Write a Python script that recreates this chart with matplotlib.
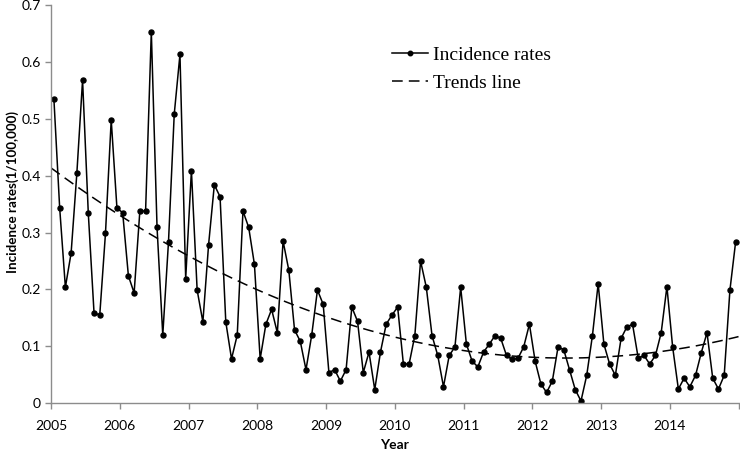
import numpy as np
import matplotlib.pyplot as plt

# monthly incidence rates, Jan 2005 - Dec 2014
rates_2005 = [0.534, 0.344, 0.204, 0.264, 0.404, 0.568, 0.334, 0.159, 0.155, 0.299, 0.498, 0.343]
rates_2006 = [0.335, 0.224, 0.194, 0.338, 0.338, 0.653, 0.309, 0.120, 0.284, 0.508, 0.613, 0.219]
rates_2007 = [0.409, 0.199, 0.143, 0.279, 0.384, 0.363, 0.143, 0.078, 0.120, 0.338, 0.309, 0.244]
rates_2008 = [0.078, 0.139, 0.165, 0.124, 0.285, 0.234, 0.129, 0.109, 0.059, 0.120, 0.199, 0.174]
rates_2009 = [0.054, 0.059, 0.039, 0.059, 0.169, 0.144, 0.054, 0.090, 0.024, 0.090, 0.139, 0.155]
rates_2010 = [0.169, 0.069, 0.069, 0.119, 0.250, 0.204, 0.119, 0.084, 0.029, 0.084, 0.099, 0.204]
rates_2011 = [0.104, 0.074, 0.064, 0.090, 0.104, 0.119, 0.114, 0.084, 0.077, 0.079, 0.099, 0.139]
rates_2012 = [0.074, 0.034, 0.019, 0.039, 0.099, 0.094, 0.059, 0.024, 0.004, 0.049, 0.119, 0.210]
rates_2013 = [0.104, 0.069, 0.049, 0.114, 0.134, 0.139, 0.079, 0.084, 0.069, 0.084, 0.124, 0.205]
rates_2014 = [0.099, 0.025, 0.044, 0.029, 0.049, 0.089, 0.124, 0.044, 0.025, 0.049, 0.199, 0.284]

years = [2005, 2006, 2007, 2008, 2009, 2010, 2011, 2012, 2013, 2014]
ytick_vals = [0, 0.1, 0.2, 0.3, 0.4, 0.5, 0.6, 0.7]
ytick_labels = ["0", "0.1", "0.2", "0.3", "0.4", "0.5", "0.6", "0.7"]

rates = np.array(rates_2005 + rates_2006 + rates_2007 + rates_2008 + rates_2009
                 + rates_2010 + rates_2011 + rates_2012 + rates_2013 + rates_2014)
n = len(rates)
x = np.arange(n) + 0.5  # points sit between the month ticks

# polynomial (order 2) trend line
coef = np.polyfit(x, rates, 2)
xt = np.linspace(0, n, 300)
yt = np.polyval(coef, xt)

fig = plt.figure(figsize=(7.4, 4.54), dpi=100)
ax = fig.add_axes([0.069, 0.1117, 0.929, 0.8773])

ax.plot(x, rates, color="black", linewidth=1.1, marker="o", markersize=3.6,
        label="Incidence rates")
ax.plot(xt, yt, color="black", linewidth=1.1, linestyle=(0, (7, 4)),
        label="Trends line")

ax.set_xlim(0, n)
ax.set_ylim(0, 0.7)
ax.set_xticks(np.arange(0, n + 1, 12))
ax.set_xticklabels([str(y) for y in years] + [""])
ax.set_yticks(ytick_vals)
ax.set_yticklabels(ytick_labels)

for s in ["top", "right"]:
    ax.spines[s].set_visible(False)
for s in ["left", "bottom"]:
    ax.spines[s].set_color("#8c8c8c")
    ax.spines[s].set_linewidth(1.0)
ax.tick_params(axis="both", colors="#8c8c8c", length=4, width=1.0,
               labelcolor="black", labelsize=10)
ax.tick_params(axis="x", pad=8)
for lab in ax.get_xticklabels() + ax.get_yticklabels():
    lab.set_fontfamily("Lato")

ax.set_xlabel("Year", fontsize=10, fontweight="bold", family="Lato", labelpad=5)
ax.set_ylabel("Incidence rates(1/100,000)", fontsize=9.6, fontweight="bold",
              family="Lato")
ax.yaxis.set_label_coords(-0.046, 0.53)

leg = ax.legend(loc="upper left", bbox_to_anchor=(0.496, 0.897), frameon=False,
                prop={"family": "Liberation Serif", "size": 14},
                handlelength=1.85, handletextpad=0.25, labelspacing=0.55,
                borderpad=0, borderaxespad=0, markerscale=0.9)

plt.savefig("out.png", dpi=100)
